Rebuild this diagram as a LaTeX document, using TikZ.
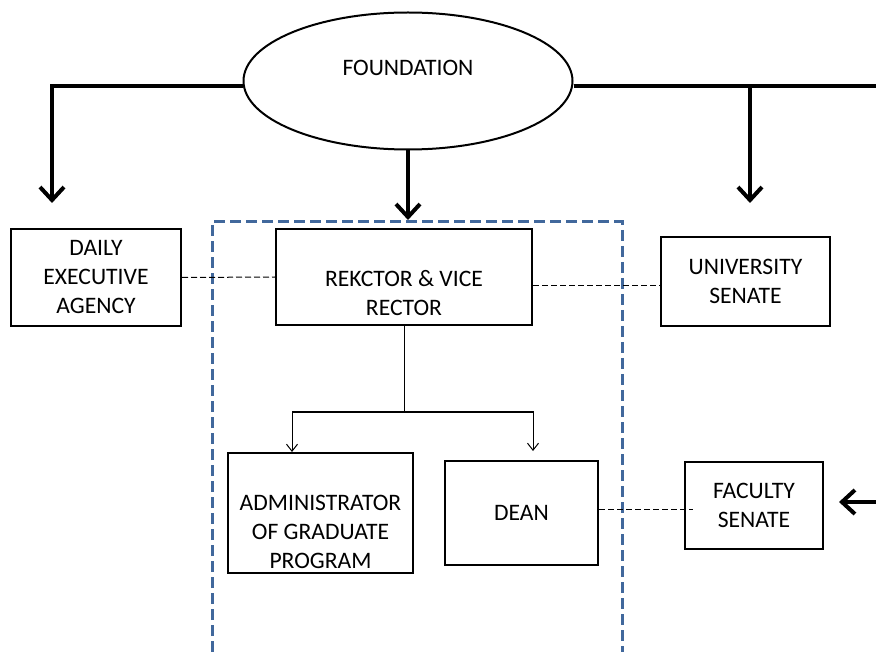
\documentclass[tikz,border=0pt]{standalone}
\usepackage{fontspec}
\setmainfont{Carlito}
\usepackage{xcolor}
\definecolor{frameblue}{HTML}{41689C}
\usetikzlibrary{shapes.geometric, arrows.meta}

\begin{document}
\begin{tikzpicture}[x=1pt, y=-1pt,
    every node/.style={font=\fontsize{23.6}{29}\selectfont},
    box/.style={draw, line width=2pt, align=center, inner sep=0pt},
    bigarrow/.style={line width=4pt, -{Straight Barb[length=13pt, width=24pt, line width=4pt]}},
    thinarrow/.style={line width=1pt, -{Straight Barb[length=7pt, width=11pt]}},
    link/.style={line width=1pt, dash pattern=on 6pt off 3pt},
    frame/.style={frameblue, line width=3pt, dash pattern=on 11pt off 5pt}]
            \useasboundingbox (0,0) rectangle (876,652);

            % foundation on top
            \node[ellipse, draw, line width=2pt, minimum width=329, minimum height=137,
                  label={[yshift=13pt]center:FOUNDATION}] at (408, 81) (fnd) {};
            \coordinate (tipl) at (52, 203);
            \coordinate (tipm) at (408, 220);
            \coordinate (tipr) at (750, 203);
            \coordinate (rend) at (876, 86);
            \coordinate (rin) at (876, 502);

            % dashed frame round the rector part
            \draw[frame] (212, 652) |- (622, 222) -- (622, 652);

            % boxes
            \node[box, minimum width=170, minimum height=97] at (96, 277.5) (dea) {DAILY\\EXECUTIVE\\AGENCY};
            \node[box, minimum width=256, minimum height=96,
                  label={[align=center, yshift=-16pt]center:REKCTOR \& VICE\\RECTOR}] at (404, 277) (rek) {};
            \node[box, minimum width=169, minimum height=89] at (745.5, 281.5) (uni) {UNIVERSITY\\SENATE};
            \node[box, minimum width=185, minimum height=120,
                  label={[align=center, yshift=-19pt]center:ADMINISTRATOR\\OF GRADUATE\\PROGRAM}] at (320.5, 513) (adm) {};
            \node[box, minimum width=153, minimum height=104] at (521.5, 513) (dean) {DEAN};
            \node[box, minimum width=138, minimum height=87] at (754, 505.5) (fac) {FACULTY\\SENATE};

            % thick arrows
            \draw[bigarrow] ([yshift=-5pt]fnd.west) -| (tipl);
            \draw[line width=4pt] ([yshift=-5pt]fnd.east) -- (rend);
            \draw[bigarrow] (tipr |- rend) -- (tipr);
            \draw[bigarrow] (fnd.south) -- (tipm);
            \draw[bigarrow] (rin) -- ([xshift=15pt]fac.east |- rin);

            % rector to administrator and dean
            \coordinate (split) at (404, 412);
            \draw[line width=1pt] (rek.south) -- (split);
            \draw[thinarrow] (split) -| ([xshift=-28.5pt]adm.north);
            \draw[thinarrow] (split) -| ([shift={(11.5pt,9pt)}]dean.north);

            % dashed links
            \draw[link] (dea.east) -- (rek.west);
            \draw[link] ([yshift=-9pt]rek.east) -- ([yshift=-9pt]rek.east -| uni.west);
            \draw[link] ([yshift=4pt]dean.east) -- ([shift={(9pt,4pt)}]dean.east -| fac.west);
        \end{tikzpicture}
\end{document}
